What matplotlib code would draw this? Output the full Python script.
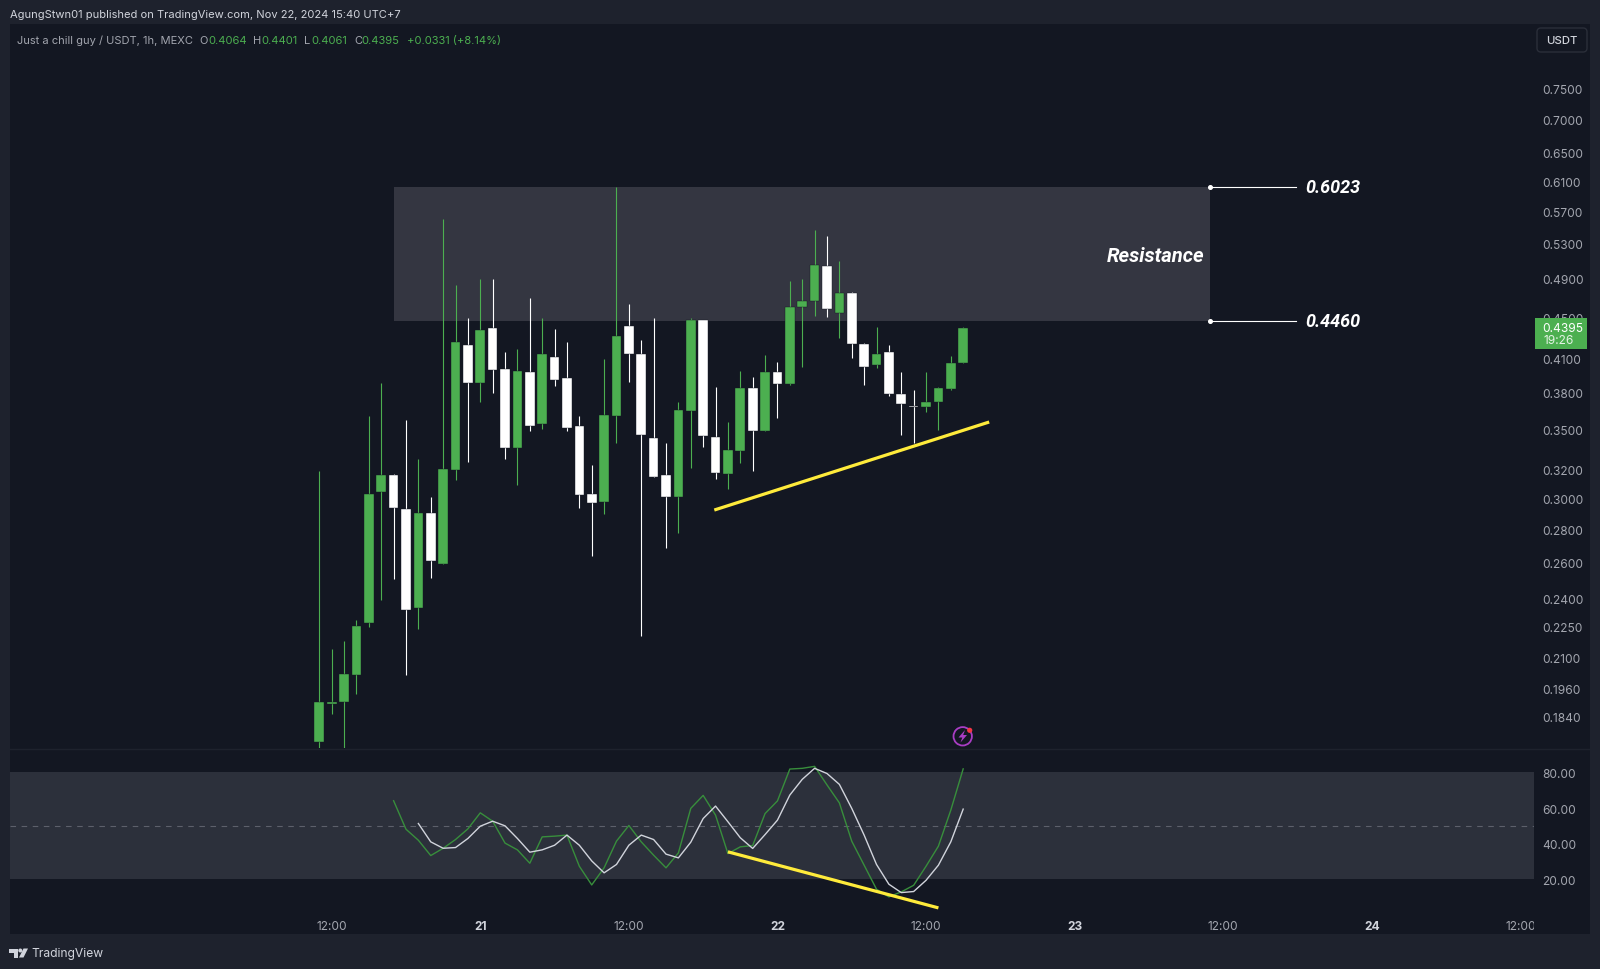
import numpy as np
import matplotlib
matplotlib.use("Agg")
import matplotlib.pyplot as plt
from matplotlib.patches import Rectangle, Circle, Polygon, FancyBboxPatch
from matplotlib.transforms import Bbox, TransformedBbox

plt.rcParams["font.family"] = ["Inter", "Roboto", "DejaVu Sans"]

# hourly candles, first one is Nov 20 11:00
opens = [.1739, .1895, .1903, .2019, .2270, .3040, .3158, .2927, .2347, .2901, .2591,
         .3198, .4227, .3885, .4388, .4003, .3359, .3979, .3544, .4115, .3923, .3526,
         .3027, .2973, .3604, .4410, .4143, .3431, .3160, .3008, .3647, .4473, .3440,
         .3169, .3337, .3842, .3484, .3976, .3871, .4602, .4667, .5047, .4544, .4751,
         .4239, .4039, .4159, .3788, .3690, .3677, .3723, .3831, .4064]
highs = [.3191, .2140, .2179, .2285, .3607, .3880, .3165, .3574, .3273, .3008, .5603,
         .4834, .4487, .4899, .4899, .4164, .4192, .4696, .4487, .4378, .4252, .3607,
         .3230, .4094, .6015, .4633, .4271, .4487, .3392, .3721, .4487, .4473, .3845,
         .3556, .3985, .3938, .4133, .4069, .4877, .4896, .5463, .5394, .5100, .4756,
         .4249, .4398, .4224, .3976, .3819, .3976, .3850, .4124, .4401]
lows = [.1708, .1850, .1716, .1936, .2251, .2387, .2503, .2019, .2241, .2508, .2591,
        .3127, .3255, .3723, .3799, .3273, .3092, .3490, .3503, .3859, .3490, .2937,
        .2636, .2898, .3397, .3894, .2206, .3148, .2684, .2778, .3208, .3367, .3134,
        .3060, .3248, .3191, .3484, .3588, .3866, .4021, .4513, .4503, .4294, .4108,
        .3868, .4018, .3771, .3454, .3392, .3641, .3493, .3823, .4061]
closes = [.1903, .1900, .2023, .2255, .3027, .3158, .2937, .2338, .2901, .2609, .3201,
          .4258, .3885, .4371, .3997, .3359, .3988, .3529, .4140, .3908, .3513, .3024,
          .2970, .3614, .4313, .4140, .3454, .3148, .3008, .3655, .4467, .3451, .3175,
          .3340, .3842, .3484, .3976, .3871, .4602, .4664, .5059, .4578, .4745, .4236,
          .4026, .4145, .3788, .3702, .3677, .3721, .3837, .4057, .4395]

# oscillator, k starts at bar 6 and d at bar 8
k_line = [64.1, 48.1, 41.9, 33.3, 37.4, 42.3, 48.3, 57.3, 52.6, 40.3, 36.5, 29.0, 43.8, 44.2,
          44.8, 27.3, 16.8, 26.4, 41.4, 50.2, 41.0, 33.5, 26.4, 34.8, 59.8, 67.1, 56.0, 34.4,
          38.2, 38.9, 56.9, 64.0, 81.9, 82.3, 83.4, 73.0, 62.9, 41.4, 27.9, 14.4, 10.1, 12.9,
          16.6, 27.3, 38.6, 58.8, 82.0]
d_line = [51.3, 41.0, 37.4, 37.8, 42.9, 49.8, 52.6, 50.0, 42.9, 35.2, 36.5, 39.1, 44.8, 39.1,
          30.3, 23.6, 28.3, 39.1, 44.8, 42.3, 34.1, 32.0, 40.8, 54.1, 61.1, 52.3, 43.3, 37.3,
          45.1, 53.2, 67.3, 76.1, 82.3, 79.4, 73.3, 59.8, 44.8, 28.3, 17.2, 12.5, 13.1, 19.4,
          27.9, 41.0, 59.4]

price_ticks = [.75, .70, .65, .61, .57, .53, .49, .45, .41, .38, .35, .32, .30, .28, .26,
               .24, .225, .21, .196, .184]
osc_ticks = [80, 60, 40, 20]
time_ticks = [1, 13, 25, 37, 49, 61, 73, 85, 97]
time_labels = ["12:00", "21", "12:00", "22", "12:00", "23", "12:00", "24", "12:00"]

zone_top = 0.6023
zone_bottom = 0.4460
zone_start = 6.05
zone_end = 71.9

support_x = [31.9, 54.1]
support_y = [0.2922, 0.3558]
diverge_x = [33, 50]
diverge_y = [35.4, 3.9]

BG = "#1e222d"
PANEL = "#131722"
GREEN = "#4caf50"
WHITE = "#ffffff"
YELLOW = "#ffeb3b"
AXIS_TEXT = "#a3a6af"

W, H = 1600, 970
fig = plt.figure(figsize=(16, 9.7), dpi=100, facecolor=BG)
fig.add_artist(Rectangle((10 / W, 1 - 935 / H), 1580 / W, 910 / H, fc=PANEL, ec="none",
                         transform=fig.transFigure, zorder=-1))


def pane(top, bottom):
    a = fig.add_axes([10 / W, 1 - bottom / H, 1524 / W, (bottom - top) / H], facecolor=PANEL)
    for s in a.spines.values():
        s.set_visible(False)
    a.yaxis.tick_right()
    a.tick_params(axis="y", length=0, pad=6, labelsize=8.6, labelcolor=AXIS_TEXT)
    a.set_xlim(-24.98, 98.1)
    return a


ax = pane(25, 749.3)
osc = pane(750, 912)

# candles
x = np.arange(len(opens))
o, h, l, c = map(np.array, (opens, highs, lows, closes))
colors = [GREEN if c[i] > o[i] else WHITE for i in x]
ax.add_patch(Rectangle((zone_start, zone_bottom), zone_end - zone_start, zone_top - zone_bottom,
                       fc="#343641", ec="none", zorder=1))
ax.vlines(x, l, h, colors=colors, lw=0.8, zorder=2)
ax.bar(x, np.abs(c - o), bottom=np.minimum(o, c), width=0.78, color=colors,
       edgecolor=PANEL, linewidth=0.3, zorder=3)
ax.plot(support_x, support_y, color=YELLOW, lw=2.3, solid_capstyle="butt", zorder=4)

ax.set_yscale("log")
ax.set_ylim(0.17148, 0.8667)
ax.set_yticks(price_ticks)
ax.set_yticklabels(["%.4f" % p for p in price_ticks])
ax.minorticks_off()
ax.set_xticks([])

# zone labels and their leader lines
for level in (zone_top, zone_bottom):
    ax.plot([zone_end, 78.9], [level, level], color=WHITE, lw=0.8, zorder=4)
    ax.plot([zone_end], [level], "o", color=WHITE, ms=2.6, zorder=5)
    ax.text(79.6, level, "%.4f" % level, color=WHITE, fontsize=13, ha="left", va="center",
            family=["Roboto"], fontweight="bold", style="italic")
ax.text(71.5, 0.5162, "Resistance", color=WHITE, fontsize=14.6, ha="right", va="center",
        family=["Roboto"], fontweight="bold", style="italic")

# oscillator pane
osc.axhspan(20, 80, fc="#2c303b", ec="none", zorder=1)
osc.axhline(50, color="#5d606b", lw=0.8, dashes=(5, 5), zorder=2)
osc.plot(x[6:], k_line, color="#388e3c", lw=1.0, zorder=3)
osc.plot(x[8:], d_line, color="#d1d4dc", lw=1.0, zorder=4)
osc.plot(diverge_x, diverge_y, color=YELLOW, lw=2.3, solid_capstyle="butt", zorder=5)
osc.set_ylim(2.16, 93.16)
osc.set_yticks(osc_ticks)
osc.set_yticklabels(["%.2f" % v for v in osc_ticks])
osc.set_xticks(time_ticks)
osc.set_xticklabels(time_labels)
osc.tick_params(axis="x", length=0, pad=6.5, labelsize=8.6, labelcolor=AXIS_TEXT)
clip = TransformedBbox(Bbox([[0, 0], [1534 / W, 1]]), fig.transFigure)
for lab, txt in zip(osc.get_xticklabels(), time_labels):
    lab.set_clip_box(clip)
    lab.set_clip_on(True)
    if ":" not in txt:
        lab.set_fontweight("bold")
        lab.set_color("#d1d4dc")

# everything around the chart, in pixels
top = fig.add_axes([0, 0, 1, 1], facecolor="none", zorder=5)
top.set_xlim(0, W)
top.set_ylim(H, 0)
top.axis("off")

top.plot([10, 1590], [749.5, 749.5], color=BG, lw=1)
top.text(10, 15.5, "AgungStwn01 published on TradingView.com, Nov 22, 2024 15:40 UTC+7",
         color="#d1d4dc", fontsize=8.0, va="center")

legend_parts = [
    (17, "Just a chill guy / USDT, 1h, MEXC", AXIS_TEXT), (199.3, "O", AXIS_TEXT),
    (208.3, "0.4064", GREEN), (253.3, "H", AXIS_TEXT), (261.7, "0.4401", GREEN),
    (304.3, "L", AXIS_TEXT), (311.7, "0.4061", GREEN), (354, "C", AXIS_TEXT),
    (361.7, "0.4395", GREEN), (406.7, "+0.0331 (+8.14%)", GREEN),
]
for px, txt, col in legend_parts:
    top.text(px, 41.2, txt, color=col, fontsize=8.0, va="center")

# currency button
top.add_patch(FancyBboxPatch((1540, 32), 44, 18, boxstyle="round,pad=3,rounding_size=4",
                             fc=PANEL, ec="#2a2e39", lw=1))
top.text(1561.5, 41.5, "USDT", color="#d1d4dc", fontsize=8.2, ha="center", va="center",
         fontweight="medium")

# last price tag
top.add_patch(Rectangle((1535, 319), 51.7, 31, fc=GREEN, ec="none"))
top.text(1542.7, 328.8, "0.4395", color="#ffffff", fontsize=8.6, va="center")
top.text(1543.5, 341, "19:26", color="#ffffff", fontsize=8.6, va="center", alpha=0.85)

# bolt icon
top.add_patch(Circle((962.7, 737.3), 9.2, fc="none", ec="#a93dc4", lw=1.3))
top.add_patch(Polygon([[965, 731], [958.5, 738.5], [962.3, 738.5], [960.5, 743.5],
                       [967, 736], [963.2, 736]], fc="#a93dc4", ec="none"))
top.add_patch(Circle((969.7, 731.3), 2.6, fc="#f23645", ec="none"))

# footer logo
logo = "#d1d4dc"
top.add_patch(Polygon([[9, 949.5], [17.5, 949.5], [17.5, 958.5], [13.5, 958.5], [13.5, 953.5],
                       [9, 953.5]], fc=logo, ec="none"))
top.add_patch(Circle((20.3, 951.5), 2.0, fc=logo, ec="none"))
top.add_patch(Polygon([[23.5, 949.5], [28, 949.5], [23.5, 958.5], [19, 958.5]], fc=logo, ec="none"))
top.text(31.7, 954.5, "TradingView", color="#d1d4dc", fontsize=8.7, va="center")

fig.savefig("out.png", dpi=100, facecolor=BG)
